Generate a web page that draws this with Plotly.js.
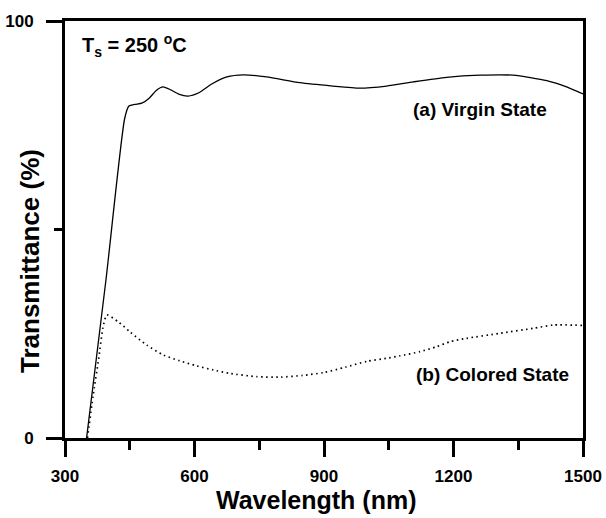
<!DOCTYPE html>
<html>
<head>
<meta charset="utf-8">
<script src="https://cdn.plot.ly/plotly-3.0.1.min.js"></script>
<style>html,body{margin:0;padding:0;background:#fff;}#chart{width:606px;height:518px;}</style>
</head>
<body>
<div id="chart"></div>
<script>
const virginX = [350, 395, 438, 448, 462, 478, 495, 512, 527, 545, 565, 585, 610, 640, 675, 713, 767, 844, 920, 983, 1045, 1107, 1184, 1261, 1338, 1416, 1462, 1500];
const virginY = [0, 38, 76.5, 79.6, 80.0, 80.3, 81.5, 83.4, 84.2, 83.5, 82.4, 82.0, 82.8, 84.9, 86.6, 87.1, 86.6, 85.2, 84.4, 83.9, 84.4, 85.4, 86.5, 87.0, 87.0, 85.7, 84.2, 82.5];
const coloredX = [352, 365, 378, 388, 397, 423, 450, 489, 528, 566, 605, 644, 682, 744, 800, 850, 900, 950, 1000, 1050, 1076, 1122, 1161, 1192, 1230, 1307, 1385, 1431, 1500];
const coloredY = [0, 10, 19, 26.5, 29.5, 27.9, 25.5, 22.3, 19.9, 18.5, 17.3, 16.3, 15.5, 14.7, 14.6, 15.0, 15.7, 17.0, 18.4, 19.2, 19.7, 20.7, 21.9, 23.1, 23.9, 25.1, 26.3, 27.1, 27.0];
const xTicks = [300, 600, 900, 1200, 1500];
const yTicks = [0, 100];
const labels = ["T<sub>s</sub> = 250 <sup>o</sup>C", "(a) Virgin State", "(b) Colored State"];
const xTitle = "Wavelength (nm)";
const yTitle = "Transmittance (%)";

const FONT = 'Arial, "Liberation Sans", sans-serif';
const W = 606, H = 518, ML = 65, MR = 23, MT = 21, MB = 80;
const px = v => (v - ML) / (W - ML - MR);
const py = v => (H - MB - v) / (H - MT - MB);

const traces = [
  {x: virginX, y: virginY, mode: 'lines', line: {color: '#000', width: 1.3, shape: 'spline', smoothing: 0.6}, hoverinfo: 'none'},
  {x: coloredX, y: coloredY, mode: 'lines', line: {color: '#000', width: 1.7, dash: '1.5px,3.5px', shape: 'spline', smoothing: 0.6}, hoverinfo: 'none'}
];

const layout = {
  width: W, height: H,
  margin: {l: ML, r: MR, t: MT, b: MB},
  paper_bgcolor: '#fff', plot_bgcolor: '#fff',
  showlegend: false,
  font: {family: FONT, color: '#000'},
  xaxis: {
    range: [300, 1500], tickvals: xTicks, ticktext: xTicks.map(String),
    ticks: 'outside', ticklen: 16, tickwidth: 3, tickcolor: '#000',
    minor: {tickvals: [450, 750, 1050, 1350], ticks: 'outside', ticklen: 9, tickwidth: 3, tickcolor: '#000'},
    showline: true, linewidth: 3, linecolor: '#000', mirror: true,
    showgrid: false, zeroline: false, ticklabelstandoff: 5,
    tickfont: {family: FONT, size: 17, weight: 'bold', color: '#000'}
  },
  yaxis: {
    range: [0, 100], tickvals: yTicks, ticktext: yTicks.map(String),
    ticks: 'outside', ticklen: 16, tickwidth: 3, tickcolor: '#000',
    minor: {tickvals: [50], ticks: 'outside', ticklen: 8, tickwidth: 3, tickcolor: '#000'},
    showline: true, linewidth: 3, linecolor: '#000', mirror: true,
    showgrid: false, zeroline: false, ticklabelstandoff: 9,
    tickfont: {family: FONT, size: 17, weight: 'bold', color: '#000'}
  },
  annotations: [
    {x: 334, y: 94.2, xref: 'x', yref: 'y', xanchor: 'left', yanchor: 'middle', text: labels[0], showarrow: false, font: {family: FONT, size: 20, weight: 'bold', color: '#000'}},
    {x: 1261, y: 78.7, xref: 'x', yref: 'y', xanchor: 'center', yanchor: 'middle', text: labels[1], showarrow: false, font: {family: FONT, size: 19, weight: 'bold', color: '#000'}},
    {x: 1290, y: 15.3, xref: 'x', yref: 'y', xanchor: 'center', yanchor: 'middle', text: labels[2], showarrow: false, font: {family: FONT, size: 19, weight: 'bold', color: '#000'}},
    {x: px(316), y: py(500), xref: 'paper', yref: 'paper', xanchor: 'center', yanchor: 'middle', text: xTitle, showarrow: false, font: {family: FONT, size: 25, weight: 'bold', color: '#000'}},
    {x: px(30), y: py(261), xref: 'paper', yref: 'paper', xanchor: 'center', yanchor: 'middle', textangle: -90, text: yTitle, showarrow: false, font: {family: FONT, size: 26, weight: 'bold', color: '#000'}}
  ]
};

Plotly.newPlot('chart', traces, layout, {staticPlot: true, displayModeBar: false});
</script>
</body>
</html>
